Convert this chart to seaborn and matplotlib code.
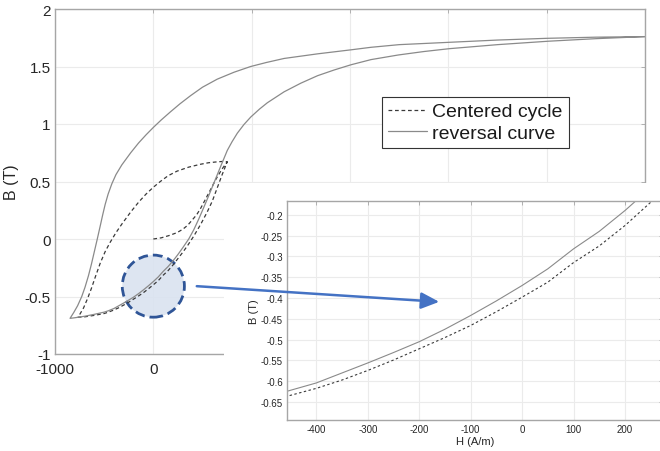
import numpy as np
import pandas as pd
import matplotlib
matplotlib.use("Agg")
import matplotlib.pyplot as plt
from matplotlib.patches import Ellipse, Rectangle, FancyArrowPatch
import seaborn as sns

# reversal curve (solid): descending branch from saturation, then ascending back
rev_down_h = [5000, 4500, 4000, 3500, 3000, 2500, 2214, 2010, 1670, 1330, 1150, 990, 820, 650,
              500, 378, 270, 173, 80, 0, -75, -150, -230, -320, -380, -422, -460, -490, -515,
              -541, -570, -600, -630, -660, -695, -728, -770, -810, -847]
rev_down_b = [1.76, 1.755, 1.745, 1.73, 1.71, 1.69, 1.667, 1.645, 1.61, 1.57, 1.535, 1.50, 1.45,
              1.39, 1.32, 1.246, 1.175, 1.105, 1.035, 0.97, 0.905, 0.835, 0.75, 0.645, 0.56,
              0.48, 0.39, 0.30, 0.21, 0.11, 0.0, -0.11, -0.22, -0.32, -0.42, -0.50, -0.58,
              -0.64, -0.69]
rev_up_h = [-847, -800, -700, -600, -500, -457, -400, -350, -300, -250, -200, -150, -100, -50,
            0, 50, 100, 150, 200, 250, 300, 360, 411, 460, 513, 560, 615, 684, 718, 752, 800,
            854, 921, 990, 1080, 1160, 1330, 1500, 1670, 1840, 2010, 2214, 2490, 2750, 3010,
            3500, 4020, 4500, 5000]
rev_up_b = [-0.69, -0.685, -0.672, -0.655, -0.636, -0.624, -0.604, -0.58, -0.556, -0.531,
            -0.505, -0.475, -0.442, -0.407, -0.370, -0.330, -0.282, -0.240, -0.190, -0.135,
            -0.075, 0.0, 0.08, 0.17, 0.275, 0.37, 0.485, 0.63, 0.70, 0.77, 0.845, 0.92, 0.995,
            1.06, 1.13, 1.185, 1.28, 1.355, 1.42, 1.47, 1.515, 1.56, 1.60, 1.63, 1.655, 1.69,
            1.72, 1.742, 1.76]

# centered cycle (dashed): first magnetisation, descending, ascending
cyc_init_h = [0, 80, 160, 240, 300, 350, 400, 440, 480, 530, 582, 640, 700, 752]
cyc_init_b = [0.0, 0.01, 0.03, 0.055, 0.085, 0.12, 0.17, 0.21, 0.265, 0.345, 0.43, 0.525, 0.61,
              0.672]
cyc_down_h = [752, 700, 650, 560, 480, 360, 241, 150, 71, 0, -75, -150, -230, -320, -380, -440,
              -490, -540, -590, -630, -670, -710, -765]
cyc_down_b = [0.672, 0.674, 0.671, 0.663, 0.65, 0.625, 0.59, 0.55, 0.50, 0.45, 0.39, 0.32,
              0.235, 0.13, 0.055, -0.03, -0.11, -0.21, -0.33, -0.43, -0.52, -0.60, -0.68]
cyc_up_h = [-765, -700, -600, -500, -457, -400, -350, -300, -250, -200, -150, -100, -50, 0, 50,
            100, 150, 200, 251, 300, 350, 411, 480, 548, 600, 650, 700, 752]
cyc_up_b = [-0.68, -0.677, -0.664, -0.648, -0.636, -0.617, -0.597, -0.574, -0.549, -0.522,
            -0.495, -0.466, -0.433, -0.398, -0.362, -0.315, -0.275, -0.226, -0.169, -0.115,
            -0.055, 0.025, 0.125, 0.235, 0.33, 0.445, 0.56, 0.672]

main_xticks = [-1000, 0, 1000, 2000, 3000, 4000, 5000]
main_xlabels = ["-1000", "0", "", "", "", "", ""]
main_yticks = [-1, -0.5, 0, 0.5, 1, 1.5, 2]
zoom_xticks = [-400, -300, -200, -100, 0, 100, 200]
zoom_yticks = [-0.65, -0.6, -0.55, -0.5, -0.45, -0.4, -0.35, -0.3, -0.25, -0.2]

rev = pd.DataFrame({"H": rev_down_h + rev_up_h, "B": rev_down_b + rev_up_b})
cyc = pd.DataFrame({"H": cyc_init_h + cyc_down_h + cyc_up_h,
                    "B": cyc_init_b + cyc_down_b + cyc_up_b})

sns.set_theme(style="whitegrid")
plt.rcParams["font.family"] = ["Liberation Sans", "DejaVu Sans"]
plt.rcParams["axes.unicode_minus"] = False

solid_c = "#8a8a8a"
dash_c = "#3a3a3a"
spine_c = "#a6a6a6"
grid_c = "#ebebeb"
text_c = "#262626"


def style_axes(ax, fs):
    ax.set_facecolor("white")
    ax.grid(True, color=grid_c, linewidth=0.8)
    for s in ax.spines.values():
        s.set_color(spine_c)
        s.set_linewidth(1.0)
    ax.tick_params(direction="in", length=3, width=0.6, color=spine_c,
                   top=True, right=True, labelsize=fs, labelcolor=text_c, pad=3)


fig = plt.figure(figsize=(6.6, 4.52), dpi=100)

# main hysteresis plot
ax = fig.add_axes([55 / 660, 1 - 355 / 452, 590 / 660, 345 / 452])
sns.lineplot(data=cyc, x="H", y="B", sort=False, estimator=None, ax=ax, color=dash_c,
             linewidth=0.9, label="Centered cycle")
sns.lineplot(data=rev, x="H", y="B", sort=False, estimator=None, ax=ax, color=solid_c,
             linewidth=0.9, label="reversal curve")
ax.lines[0].set_dashes((3, 2.2))
ax.set_xlim(-1000, 5000)
ax.set_ylim(-1, 2)
ax.set_xticks(main_xticks)
ax.set_yticks(main_yticks)
ax.set_xticklabels(main_xlabels)
ax.set_yticklabels([f"{v:g}" for v in main_yticks])
style_axes(ax, 11)
ax.tick_params(axis="x", pad=6)
ax.set_xlabel("")
ax.set_ylabel("B (T)", fontsize=11.5, color=text_c, labelpad=4)

leg = ax.legend(loc="upper left", bbox_to_anchor=(0.554, 0.745), borderaxespad=0,
                fontsize=14, frameon=True, fancybox=False, framealpha=1,
                handlelength=2.0, handletextpad=0.3, borderpad=0.3, labelspacing=0.2)
leg.get_frame().set_edgecolor("#333333")
leg.get_frame().set_linewidth(0.8)
for t in leg.get_texts():
    t.set_color("#1a1a1a")

circle = Ellipse((0, -0.41), width=632, height=0.54, facecolor=(0.855, 0.89, 0.94, 0.9),
                 edgecolor="#2f5597", linewidth=2.0, linestyle=(0, (3.5, 1.8)), zorder=1.5)
ax.add_patch(circle)

# white block under the zoom panel
fig.patches.append(Rectangle((224 / 660, 0), 1, 1 - 184 / 452, transform=fig.transFigure,
                             facecolor="white", edgecolor="none", zorder=1))

# zoomed panel
axz = fig.add_axes([287 / 660, 1 - 421 / 452, 376 / 660, 219 / 452])
axz.set_zorder(2)
sns.lineplot(data=cyc, x="H", y="B", sort=False, estimator=None, ax=axz, color=dash_c,
             linewidth=0.8)
sns.lineplot(data=rev, x="H", y="B", sort=False, estimator=None, ax=axz, color=solid_c,
             linewidth=0.8)
axz.lines[0].set_dashes((2.2, 2.2))
axz.set_xlim(-457, 274)
axz.set_ylim(-0.693, -0.167)
axz.set_xticks(zoom_xticks)
axz.set_yticks(zoom_yticks)
axz.set_xticklabels([f"{v:g}" for v in zoom_xticks])
axz.set_yticklabels([f"{v:g}" for v in zoom_yticks])
style_axes(axz, 7)
axz.set_xlabel("H (A/m)", fontsize=8, color=text_c, labelpad=1)
axz.set_ylabel("B (T)", fontsize=8, color=text_c, labelpad=1)

arrow = FancyArrowPatch((194 / 660, 1 - 287 / 452), (442 / 660, 1 - 303 / 452),
                        transform=fig.transFigure, color="#4472c4", linewidth=1.8,
                        arrowstyle="-|>,head_length=1.1,head_width=0.5", mutation_scale=10,
                        zorder=5)
fig.patches.append(arrow)

fig.savefig("out.png", dpi=100)
